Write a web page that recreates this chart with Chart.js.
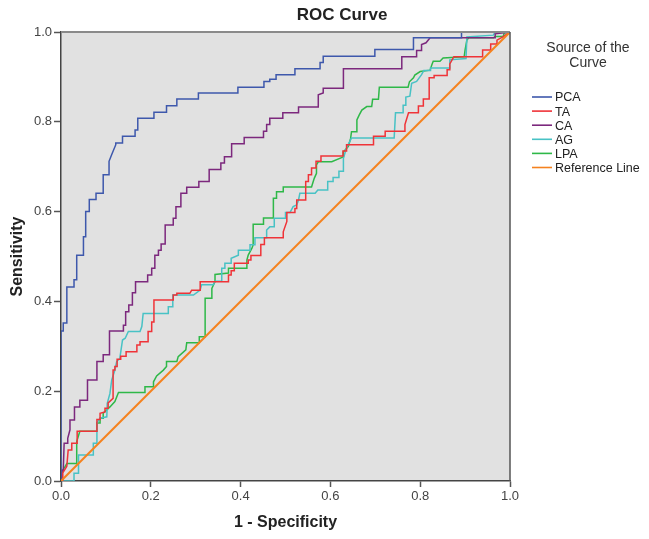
<!DOCTYPE html>
<html>
<head>
<meta charset="utf-8">
<title>ROC Curve</title>
<script src="https://cdn.jsdelivr.net/npm/chart.js@4.4.1/dist/chart.umd.min.js"></script>
<style>
  html, body { margin: 0; padding: 0; background: #fff; }
  #wrap { width: 649px; height: 539px; }
</style>
</head>
<body>
<div id="wrap"><canvas id="rocChart" width="649" height="539"></canvas></div>
<script>
// [1 - specificity, sensitivity] vertices
const pca = [[0,0],[0,0.334],[0.005,0.334],[0.005,0.352],[0.013,0.352],[0.013,0.432],[0.029,0.432],[0.029,0.448],[0.035,0.448],[0.035,0.503],[0.050,0.503],[0.050,0.544],[0.055,0.544],[0.055,0.600],[0.063,0.600],[0.063,0.627],[0.078,0.627],[0.078,0.641],[0.094,0.641],[0.094,0.682],[0.107,0.682],[0.107,0.712],[0.113,0.727],[0.122,0.749],[0.122,0.753],[0.137,0.753],[0.137,0.768],[0.165,0.768],[0.165,0.782],[0.171,0.782],[0.171,0.808],[0.207,0.808],[0.207,0.821],[0.235,0.821],[0.235,0.836],[0.258,0.836],[0.258,0.851],[0.306,0.851],[0.306,0.864],[0.394,0.864],[0.394,0.877],[0.452,0.877],[0.452,0.890],[0.465,0.890],[0.465,0.895],[0.479,0.895],[0.479,0.905],[0.521,0.905],[0.521,0.918],[0.577,0.918],[0.577,0.932],[0.584,0.932],[0.584,0.946],[0.699,0.946],[0.699,0.961],[0.785,0.961],[0.785,0.987],[0.892,0.987],[0.892,1],[1,1]];

const ta = [[0,0],[0.004,0],[0.004,0.018],[0.013,0.033],[0.016,0.069],[0.024,0.069],[0.024,0.084],[0.036,0.084],[0.036,0.111],[0.080,0.111],[0.080,0.137],[0.087,0.137],[0.087,0.151],[0.098,0.154],[0.098,0.162],[0.105,0.162],[0.105,0.174],[0.116,0.184],[0.116,0.247],[0.120,0.247],[0.120,0.255],[0.125,0.255],[0.125,0.271],[0.133,0.271],[0.133,0.278],[0.145,0.278],[0.145,0.288],[0.169,0.288],[0.169,0.303],[0.176,0.303],[0.176,0.310],[0.194,0.310],[0.194,0.333],[0.202,0.333],[0.202,0.354],[0.207,0.354],[0.207,0.403],[0.250,0.403],[0.250,0.414],[0.258,0.414],[0.258,0.418],[0.287,0.418],[0.291,0.425],[0.310,0.425],[0.310,0.444],[0.373,0.444],[0.373,0.459],[0.379,0.459],[0.379,0.468],[0.386,0.468],[0.386,0.485],[0.417,0.485],[0.417,0.492],[0.423,0.492],[0.423,0.502],[0.445,0.502],[0.445,0.527],[0.453,0.527],[0.453,0.542],[0.495,0.542],[0.495,0.555],[0.503,0.578],[0.503,0.598],[0.521,0.598],[0.521,0.607],[0.525,0.607],[0.525,0.626],[0.545,0.626],[0.545,0.667],[0.551,0.667],[0.551,0.682],[0.558,0.682],[0.558,0.697],[0.568,0.697],[0.568,0.712],[0.579,0.712],[0.579,0.724],[0.628,0.724],[0.628,0.735],[0.636,0.735],[0.636,0.749],[0.696,0.749],[0.696,0.768],[0.722,0.768],[0.722,0.779],[0.766,0.779],[0.766,0.794],[0.774,0.820],[0.796,0.820],[0.796,0.835],[0.807,0.835],[0.807,0.851],[0.820,0.851],[0.820,0.898],[0.831,0.898],[0.831,0.903],[0.860,0.903],[0.860,0.916],[0.866,0.916],[0.866,0.929],[0.875,0.945],[0.939,0.945],[0.939,0.960],[0.957,0.960],[0.957,0.973],[0.971,0.973],[0.971,0.982],[0.984,0.989],[1,1]];

const ca = [[0,0],[0.002,0],[0.002,0.024],[0.005,0.024],[0.007,0.084],[0.015,0.084],[0.015,0.095],[0.020,0.114],[0.020,0.136],[0.030,0.136],[0.030,0.165],[0.042,0.165],[0.042,0.180],[0.059,0.180],[0.059,0.225],[0.080,0.225],[0.080,0.266],[0.094,0.266],[0.094,0.281],[0.108,0.281],[0.108,0.334],[0.139,0.334],[0.139,0.347],[0.144,0.347],[0.144,0.377],[0.151,0.377],[0.151,0.392],[0.159,0.392],[0.159,0.419],[0.166,0.419],[0.166,0.444],[0.193,0.444],[0.193,0.459],[0.202,0.459],[0.202,0.474],[0.209,0.474],[0.209,0.503],[0.217,0.503],[0.217,0.514],[0.223,0.514],[0.223,0.528],[0.232,0.528],[0.232,0.570],[0.250,0.570],[0.250,0.585],[0.256,0.585],[0.256,0.611],[0.267,0.611],[0.267,0.641],[0.280,0.641],[0.280,0.654],[0.307,0.654],[0.307,0.667],[0.330,0.667],[0.330,0.694],[0.356,0.694],[0.356,0.708],[0.364,0.708],[0.364,0.722],[0.380,0.722],[0.380,0.751],[0.408,0.751],[0.408,0.765],[0.451,0.765],[0.451,0.779],[0.458,0.779],[0.458,0.794],[0.465,0.794],[0.465,0.808],[0.494,0.808],[0.494,0.820],[0.529,0.820],[0.529,0.833],[0.573,0.833],[0.573,0.860],[0.584,0.864],[0.584,0.875],[0.629,0.875],[0.629,0.918],[0.759,0.918],[0.759,0.945],[0.792,0.945],[0.792,0.959],[0.803,0.959],[0.803,0.972],[0.813,0.976],[0.822,0.987],[0.967,0.987],[0.967,0.996],[1,1]];

const ag = [[0,0],[0.029,0],[0.029,0.017],[0.039,0.017],[0.039,0.058],[0.072,0.058],[0.072,0.084],[0.080,0.084],[0.080,0.129],[0.087,0.140],[0.102,0.143],[0.103,0.173],[0.109,0.195],[0.113,0.225],[0.120,0.247],[0.124,0.266],[0.131,0.273],[0.137,0.314],[0.143,0.318],[0.150,0.333],[0.176,0.333],[0.180,0.344],[0.183,0.373],[0.239,0.373],[0.239,0.388],[0.249,0.388],[0.249,0.414],[0.295,0.414],[0.310,0.425],[0.313,0.437],[0.339,0.437],[0.343,0.445],[0.358,0.445],[0.358,0.474],[0.365,0.474],[0.365,0.485],[0.379,0.485],[0.379,0.496],[0.395,0.503],[0.395,0.514],[0.421,0.514],[0.421,0.526],[0.432,0.526],[0.432,0.542],[0.458,0.542],[0.458,0.559],[0.465,0.566],[0.475,0.566],[0.475,0.585],[0.500,0.585],[0.500,0.598],[0.510,0.598],[0.517,0.611],[0.525,0.615],[0.529,0.626],[0.532,0.641],[0.566,0.641],[0.572,0.648],[0.594,0.648],[0.594,0.667],[0.606,0.667],[0.606,0.676],[0.619,0.676],[0.619,0.690],[0.629,0.690],[0.629,0.719],[0.636,0.742],[0.647,0.764],[0.742,0.764],[0.745,0.820],[0.762,0.820],[0.762,0.837],[0.768,0.837],[0.768,0.855],[0.777,0.857],[0.781,0.886],[0.792,0.890],[0.803,0.905],[0.808,0.914],[0.822,0.914],[0.823,0.920],[0.866,0.920],[0.866,0.938],[0.902,0.941],[0.904,0.989],[0.963,0.993],[0.967,1],[1,1]];

const lpa = [[0,0],[0.002,0.013],[0.004,0.024],[0.009,0.032],[0.013,0.039],[0.035,0.039],[0.035,0.088],[0.042,0.111],[0.080,0.111],[0.080,0.129],[0.087,0.129],[0.087,0.140],[0.094,0.140],[0.094,0.151],[0.109,0.165],[0.120,0.177],[0.128,0.197],[0.187,0.197],[0.187,0.210],[0.206,0.210],[0.206,0.221],[0.213,0.234],[0.228,0.247],[0.235,0.255],[0.235,0.266],[0.258,0.266],[0.261,0.277],[0.278,0.292],[0.280,0.308],[0.308,0.308],[0.308,0.321],[0.321,0.321],[0.321,0.407],[0.336,0.407],[0.336,0.429],[0.343,0.444],[0.343,0.460],[0.373,0.463],[0.373,0.474],[0.414,0.474],[0.414,0.492],[0.417,0.503],[0.425,0.518],[0.428,0.526],[0.428,0.572],[0.451,0.572],[0.451,0.586],[0.473,0.586],[0.473,0.630],[0.480,0.630],[0.480,0.644],[0.495,0.644],[0.495,0.655],[0.558,0.655],[0.564,0.674],[0.569,0.685],[0.569,0.704],[0.573,0.711],[0.603,0.711],[0.629,0.722],[0.629,0.733],[0.640,0.745],[0.645,0.763],[0.647,0.778],[0.659,0.778],[0.659,0.804],[0.664,0.815],[0.670,0.826],[0.681,0.834],[0.692,0.834],[0.694,0.850],[0.707,0.850],[0.709,0.877],[0.773,0.877],[0.776,0.889],[0.785,0.898],[0.788,0.904],[0.800,0.912],[0.822,0.915],[0.826,0.927],[0.829,0.935],[0.844,0.935],[0.851,0.942],[0.898,0.945],[0.900,0.960],[0.904,0.982],[0.908,0.987],[0.963,0.987],[0.967,0.990],[0.985,0.990],[0.987,0.998],[1,1]];

const refLine = [[0,0],[1,1]];

const seriesNames = ["PCA", "TA", "CA", "AG", "LPA", "Reference Line"];
const seriesColors = ["#3e58ac", "#ef3338", "#7c287d", "#48c2c5", "#2eb848", "#f5821f"];
const seriesData = [pca, ta, ca, ag, lpa, refLine];
const tickValues = [0, 0.2, 0.4, 0.6, 0.8, 1.0];

const FONT = "Arial, 'Liberation Sans', Helvetica, sans-serif";

// grey plot background + frame
const plotFrame = {
    id: "plotFrame",
    beforeDraw(chart) {
        const { ctx, chartArea: a } = chart;
        ctx.save();
        ctx.fillStyle = "#e1e1e1";
        ctx.fillRect(a.left, a.top, a.right - a.left, a.bottom - a.top);
        ctx.restore();
    },
    afterDraw(chart) {
        const { ctx, chartArea: a } = chart;
        ctx.save();
        ctx.strokeStyle = "#8a8a8a";
        ctx.lineWidth = 2;
        ctx.beginPath();
        ctx.moveTo(a.left, a.top);
        ctx.lineTo(a.right, a.top);
        ctx.stroke();
        ctx.strokeStyle = "#555";
        ctx.lineWidth = 1.5;
        ctx.beginPath();
        ctx.moveTo(a.right, a.top);
        ctx.lineTo(a.right, a.bottom);
        ctx.stroke();

        // title, centred over plot + legend like SPSS does
        ctx.fillStyle = "#222";
        ctx.font = "bold 17px " + FONT;
        ctx.textAlign = "center";
        ctx.textBaseline = "middle";
        ctx.fillText("ROC Curve", 342, 15);

        // legend
        ctx.fillStyle = "#333";
        ctx.font = "14px " + FONT;
        ctx.fillText("Source of the", 588, 48);
        ctx.fillText("Curve", 588, 63);

        ctx.font = "12.5px " + FONT;
        ctx.textAlign = "left";
        seriesNames.forEach((name, i) => {
            const y = 98 + i * 14.1;
            ctx.strokeStyle = seriesColors[i];
            ctx.lineWidth = 1.6;
            ctx.beginPath();
            ctx.moveTo(532, y - 1);
            ctx.lineTo(552, y - 1);
            ctx.stroke();
            ctx.fillStyle = "#222";
            ctx.fillText(name, 555, y);
        });
        ctx.restore();
    }
};

const datasets = seriesData.map((pts, i) => ({
    label: seriesNames[i],
    data: pts.map(p => ({ x: p[0], y: p[1] })),
    borderColor: seriesColors[i],
    borderWidth: i === 5 ? 2 : 1.5,
    pointRadius: 0,
    showLine: true,
    fill: false,
    tension: 0,
    order: i === 5 ? 0 : i + 1
}));

const axisTicks = {
    color: "#444",
    font: { family: FONT, size: 13 },
    autoSkip: false,
    callback: v => Number(v).toFixed(1)
};

new Chart(document.getElementById("rocChart"), {
    type: "scatter",
    data: { datasets: datasets },
    options: {
        responsive: false,
        animation: false,
        devicePixelRatio: 1,
        layout: { padding: { top: 32, right: 139, left: 0, bottom: 0 } },
        plugins: {
            legend: { display: false },
            tooltip: { enabled: false },
            title: { display: false }
        },
        scales: {
            x: {
                type: "linear",
                min: 0,
                max: 1,
                afterBuildTicks: s => { s.ticks = tickValues.map(v => ({ value: v })); },
                afterFit: s => { s.height = 58; },
                ticks: Object.assign({ padding: 2, maxRotation: 0 }, axisTicks),
                grid: { drawOnChartArea: false, drawTicks: true, tickLength: 6, color: "#555", tickWidth: 1.5 },
                border: { display: true, color: "#444", width: 1.5 },
                title: {
                    display: true,
                    text: "1 - Specificity",
                    color: "#222",
                    font: { family: FONT, size: 16, weight: "bold" },
                    padding: { top: 0, bottom: 7 }
                }
            },
            y: {
                type: "linear",
                min: 0,
                max: 1,
                afterBuildTicks: s => { s.ticks = tickValues.map(v => ({ value: v })); },
                afterFit: s => { s.width = 61; },
                ticks: Object.assign({ padding: 2 }, axisTicks),
                grid: { drawOnChartArea: false, drawTicks: true, tickLength: 7, color: "#555", tickWidth: 1.5 },
                border: { display: true, color: "#444", width: 1.5 },
                title: {
                    display: true,
                    text: "Sensitivity",
                    color: "#222",
                    font: { family: FONT, size: 16, weight: "bold" },
                    padding: { top: 8, bottom: 0 }
                }
            }
        }
    },
    plugins: [plotFrame]
});
</script>
</body>
</html>
